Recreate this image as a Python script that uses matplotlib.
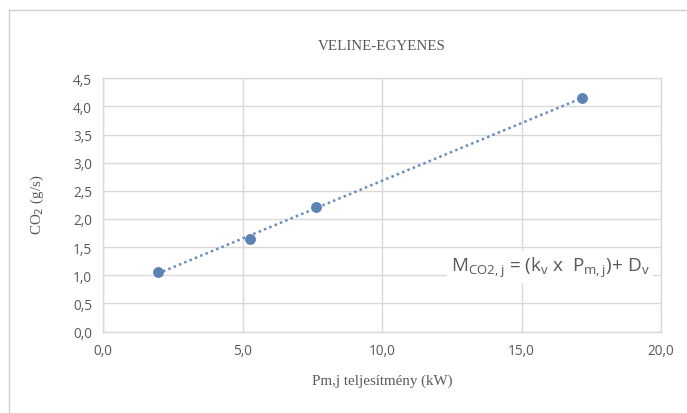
import numpy as np
import matplotlib
matplotlib.use("Agg")
import matplotlib.pyplot as plt
from matplotlib.lines import Line2D

# Data
power_kw = [1.95, 5.27, 7.64, 17.15]
co2_gs = [1.06, 1.65, 2.22, 4.15]
x_ticks = [0, 5, 10, 15, 20]
y_ticks = [0.0, 0.5, 1.0, 1.5, 2.0, 2.5, 3.0, 3.5, 4.0, 4.5]
title = "VELINE-EGYENES"
xlabel = "Pm,j teljesítmény (kW)"
ylabel = "CO$_2$ (g/s)"

W, H = 687, 414
fig = plt.figure(figsize=(W / 100, H / 100), dpi=100)
fig.patch.set_facecolor("white")

ax = fig.add_axes([103.3 / W, 1 - 332.5 / H, (661 - 103.3) / W, (332.5 - 79.3) / H])

blue = "#5B84B4"
grid_c = "#D9D9D9"
txt_c = "#595959"

# trendline (linear fit)
k, d = np.polyfit(power_kw, co2_gs, 1)
xs = np.array([min(power_kw), max(power_kw)])
ax.plot(xs, k * xs + d, linestyle=(0, (1, 1.3)), color="#6A8CBA", lw=1.8, zorder=3)
ax.plot(power_kw, co2_gs, "o", color=blue, ms=6.8, zorder=4)

ax.set_xlim(0, 20)
ax.set_ylim(0, 4.5)
ax.set_xticks(x_ticks)
ax.set_yticks(y_ticks)
ax.set_xticklabels([f"{v:.1f}".replace(".", ",") for v in x_ticks])
ax.set_yticklabels([f"{v:.1f}".replace(".", ",") for v in y_ticks])
ax.tick_params(length=0, colors=txt_c, labelsize=9.8, pad=8)
for lab in ax.get_xticklabels() + ax.get_yticklabels():
    lab.set_family("Open Sans")
ax.grid(True, color=grid_c, lw=1.0)
ax.set_axisbelow(True)
for s in ax.spines.values():
    s.set_color(grid_c)
    s.set_linewidth(1.0)

fig.text(382 / W, 1 - 47 / H, title, ha="center", va="center",
         family="Liberation Serif", fontsize=10.8, color=txt_c)
fig.text(382 / W, 1 - 381 / H, xlabel, ha="center", va="center",
         family="Liberation Serif", fontsize=10.8, color=txt_c)
fig.text(37 / W, 1 - 205 / H, ylabel, ha="center", va="center", rotation=90,
         family="Liberation Serif", fontsize=10.8, color=txt_c)

eq = (r"M$_{\mathregular{CO2,j}}$ = (k$_{\mathregular{v}}$ x  "
      r"P$_{\mathregular{m,j}}$)+ D$_{\mathregular{v}}$")
ax.text(550 / W, 1 - 268 / H, eq, transform=fig.transFigure, ha="center", va="center",
        family="Open Sans", fontsize=13.6, color=txt_c, zorder=5,
        bbox=dict(facecolor="white", edgecolor="none", pad=3))

# chart border (top and left visible)
fig.add_artist(Line2D([8.5 / W, 8.5 / W], [0, 1 - 10.5 / H], transform=fig.transFigure,
                      color="#D0D0D0", lw=1.0))
fig.add_artist(Line2D([8.5 / W, 1], [1 - 10.5 / H, 1 - 10.5 / H], transform=fig.transFigure,
                      color="#D0D0D0", lw=1.0))

fig.savefig("out.png", dpi=100)
